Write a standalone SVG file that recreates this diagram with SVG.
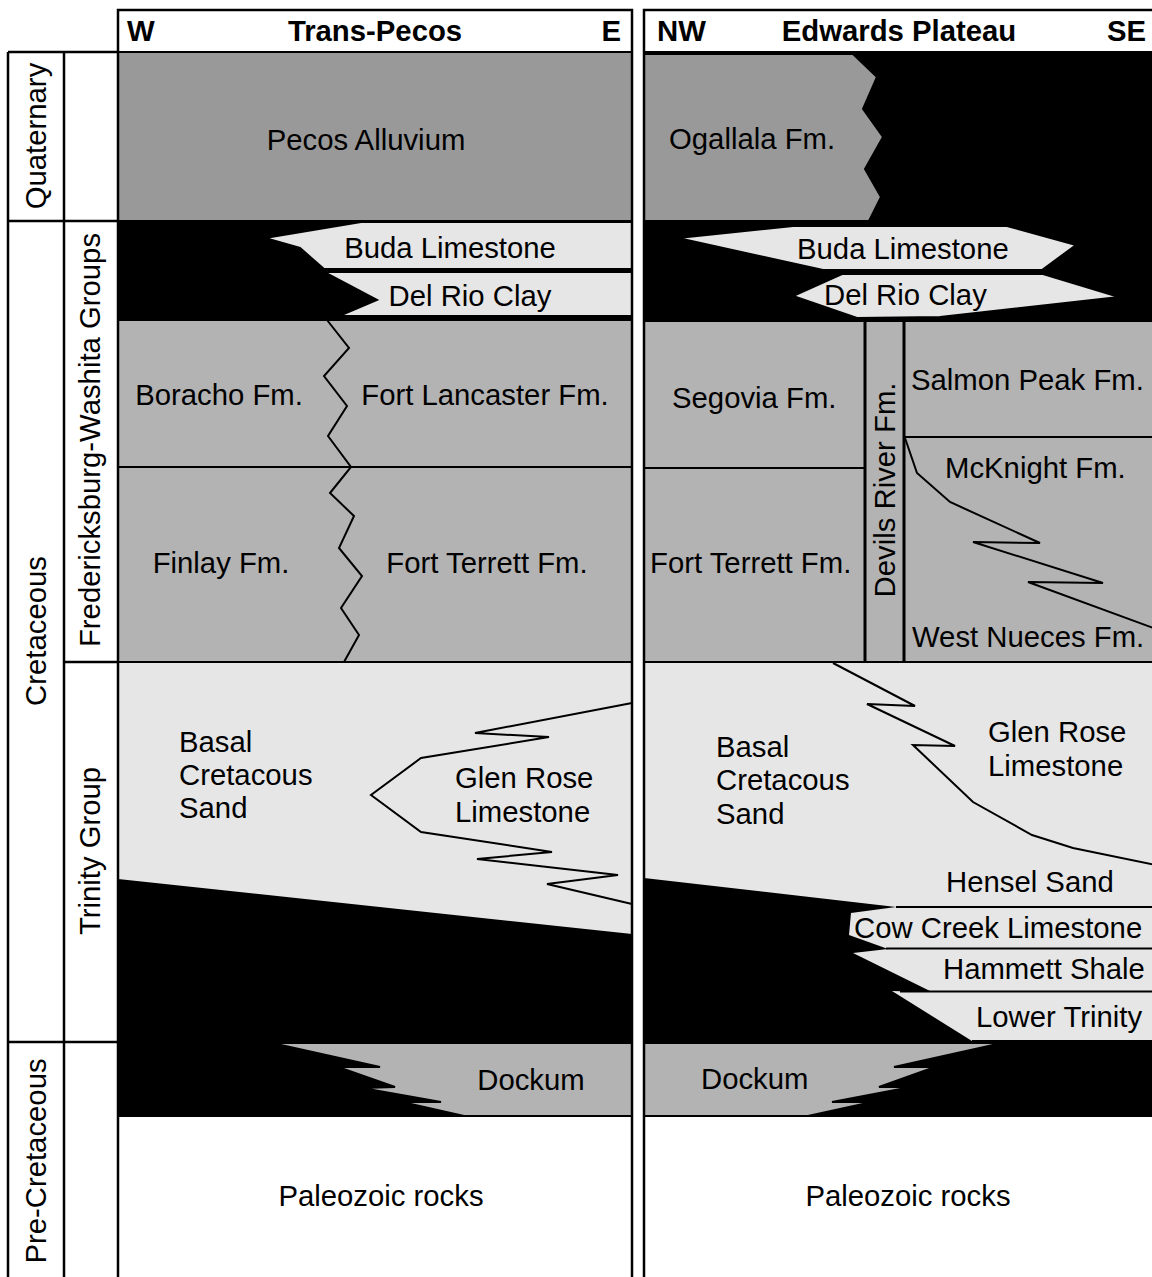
<svg xmlns="http://www.w3.org/2000/svg" width="1152" height="1277" viewBox="0 0 1152 1277">
<style>
text{font-family:"Liberation Sans",Arial,Helvetica,sans-serif;font-size:29.3px;fill:#000}
.b{font-weight:bold}
.m{text-anchor:middle}
.e{text-anchor:end}
.q{fill:#999999;stroke:#000;stroke-width:2}
.f{fill:#b3b3b3;stroke:#000;stroke-width:2}
.l{fill:#e6e6e6;stroke:#000;stroke-width:2}
.k{fill:#000}
.w{fill:#fff;stroke:#000;stroke-width:2}
.ln{fill:none;stroke:#000;stroke-width:2}
.dr{fill:none;stroke:#000;stroke-width:3}
.bd{fill:none;stroke:#000;stroke-width:2.5}
</style>
<rect width="1152" height="1277" fill="#fff"/>

<g id="age-columns">
<path class="bd" d="M8,52 V1280 M64,52 V1280 M8,52 H118 M8,221 H118 M64,662 H118 M8,1042 H118"/>
<text class="m" transform="translate(46,136) rotate(-90)">Quaternary</text>
<text class="m" transform="translate(46,631) rotate(-90)">Cretaceous</text>
<text class="m" transform="translate(46,1161) rotate(-90)">Pre-Cretaceous</text>
<text class="m" transform="translate(100,440) rotate(-90)">Fredericksburg-Washita Groups</text>
<text class="m" transform="translate(100,851) rotate(-90)">Trinity Group</text>
</g>

<g id="trans-pecos">
<rect class="w" x="118" y="10" width="514" height="42"/>
<text class="b" x="127" y="41">W</text>
<text class="b m" x="375" y="41">Trans-Pecos</text>
<text class="b e" x="621" y="41">E</text>
<g id="tp-pecos"><rect class="q" x="118" y="52" width="514" height="169"/>
<text class="m" x="366" y="150">Pecos Alluvium</text></g>
<rect class="k" x="118" y="221" width="514" height="99"/>
<g id="tp-buda"><polygon class="l" points="361,222 632,222 632,269 324,269 300,248 265,238"/>
<text class="m" x="450" y="258">Buda Limestone</text></g>
<g id="tp-delrio"><polygon class="l" points="324,272 632,272 632,316 339,316 377,300"/>
<text class="m" x="470" y="306">Del Rio Clay</text></g>
<rect class="f" x="118" y="320" width="514" height="147"/>
<rect class="f" x="118" y="467" width="514" height="195"/>
<g id="tp-boracho"><text class="m" x="219" y="405">Boracho Fm.</text></g>
<g id="tp-lancaster"><text class="m" x="485" y="405">Fort Lancaster Fm.</text></g>
<g id="tp-finlay"><text class="m" x="221" y="573">Finlay Fm.</text></g>
<g id="tp-terrett"><text class="m" x="487" y="573">Fort Terrett Fm.</text></g>
<polygon class="l" points="118,662 632,662 632,935 118,880"/>
<polygon class="k" points="118,880 632,935 632,1043 118,1043"/>
<g id="tp-basal"><text x="179" y="752">Basal</text><text x="179" y="785">Cretacous</text><text x="179" y="818">Sand</text></g>
<g id="tp-glenrose"><text x="455" y="788">Glen Rose</text><text x="455" y="822">Limestone</text></g>
<rect class="k" x="118" y="1042" width="514" height="74"/>
<g id="tp-dockum"><polygon class="f" points="272,1043 632,1043 632,1116 464,1116 402,1102 441,1102 362,1088 395,1087 338,1067 380,1067"/>
<text class="m" x="531" y="1090">Dockum</text></g>
<rect class="w" x="118" y="1116" width="514" height="170"/>
<g id="tp-paleozoic"><text class="m" x="381" y="1206">Paleozoic rocks</text></g>
</g>

<g id="edwards-plateau">
<rect class="w" x="644" y="10" width="512" height="42"/>
<text class="b" x="657" y="41">NW</text>
<text class="b m" x="899" y="41">Edwards Plateau</text>
<text class="b e" x="1146" y="41">SE</text>
<rect class="k" x="644" y="52" width="512" height="268"/>
<g id="ep-ogallala"><polygon class="q" points="644,54 853,54 877,77 863,109 883,137 865,169 881,197 869,221 644,221"/>
<text x="669" y="149">Ogallala Fm.</text></g>
<g id="ep-buda"><polygon class="l" points="678,238 793,226 1007,226 1076,245 1042,270 823,270"/>
<text x="797" y="259">Buda Limestone</text></g>
<g id="ep-delrio"><polygon class="l" points="793,296 842,274 1043,274 1119,297 940,317 857,318"/>
<text x="824" y="305">Del Rio Clay</text></g>
<rect class="f" x="644" y="321" width="512" height="341"/>
<g id="ep-segovia"><text x="672" y="408">Segovia Fm.</text></g>
<g id="ep-terrett"><text x="650" y="573">Fort Terrett Fm.</text></g>
<g id="ep-devils"><text class="m" transform="translate(895,490) rotate(-90)">Devils River Fm.</text></g>
<g id="ep-salmon"><text x="911" y="390">Salmon Peak Fm.</text></g>
<g id="ep-mcknight"><text x="945" y="478">McKnight Fm.</text></g>
<g id="ep-westnueces"><text x="912" y="647">West Nueces Fm.</text></g>
<rect class="l" x="644" y="662" width="512" height="380"/>
<polygon class="k" points="644,878 896,907 851,913 849,935 888,949 853,953 932,992 892,991 972,1041 644,1041"/>
<g id="ep-basal"><text x="716" y="757">Basal</text><text x="716" y="790">Cretacous</text><text x="716" y="824">Sand</text></g>
<g id="ep-glenrose"><text x="988" y="742">Glen Rose</text><text x="988" y="776">Limestone</text></g>
<g id="ep-hensel"><text x="946" y="892">Hensel Sand</text></g>
<g id="ep-cowcreek"><text x="854" y="938">Cow Creek Limestone</text></g>
<g id="ep-hammett"><text x="943" y="979">Hammett Shale</text></g>
<g id="ep-lowertrinity"><text x="976" y="1027">Lower Trinity</text></g>
<rect class="k" x="644" y="1041" width="512" height="75"/>
<g id="ep-dockum"><polygon class="f" points="644,1043 1002,1043 894,1067 935,1067 879,1087 911,1087 832,1102 872,1102 808,1116 644,1116"/>
<text x="701" y="1089">Dockum</text></g>
<rect class="w" x="644" y="1116" width="512" height="170"/>
<g id="ep-paleozoic"><text class="m" x="908" y="1206">Paleozoic rocks</text></g>
</g>

<g id="connectors">
<polyline class="ln" points="327,320 349,348 324,376 347,406 328,436 351,467 330,493 354,516 339,548 362,576 341,608 359,635 344,662"/>
<polyline class="ln" points="632,703 475,733 549,737 421,758 371,795 421,832 552,852 477,859 618,875 547,884 632,904"/>
<path class="ln" d="M644,468 H865 M904,437 H1156 M896,907 H1156 M886,948.5 H1156 M900,991.5 H1156 M972,1041 H1156"/>
<path class="dr" d="M865,321 V662 M904,321 V662"/>
<polyline class="ln" points="905,438 917,473 950,502 1040,543 973,542 1103,583 1028,582 1156,629"/>
<polyline class="ln" points="833,663 915,706 867,704 955,746 913,745 973,802 1032,835 1073,848 1156,865"/>
</g>

<g id="frames">
<rect class="bd" x="118" y="10" width="514" height="1280"/>
<rect class="bd" x="644" y="10" width="520" height="1280"/>
</g>
</svg>
